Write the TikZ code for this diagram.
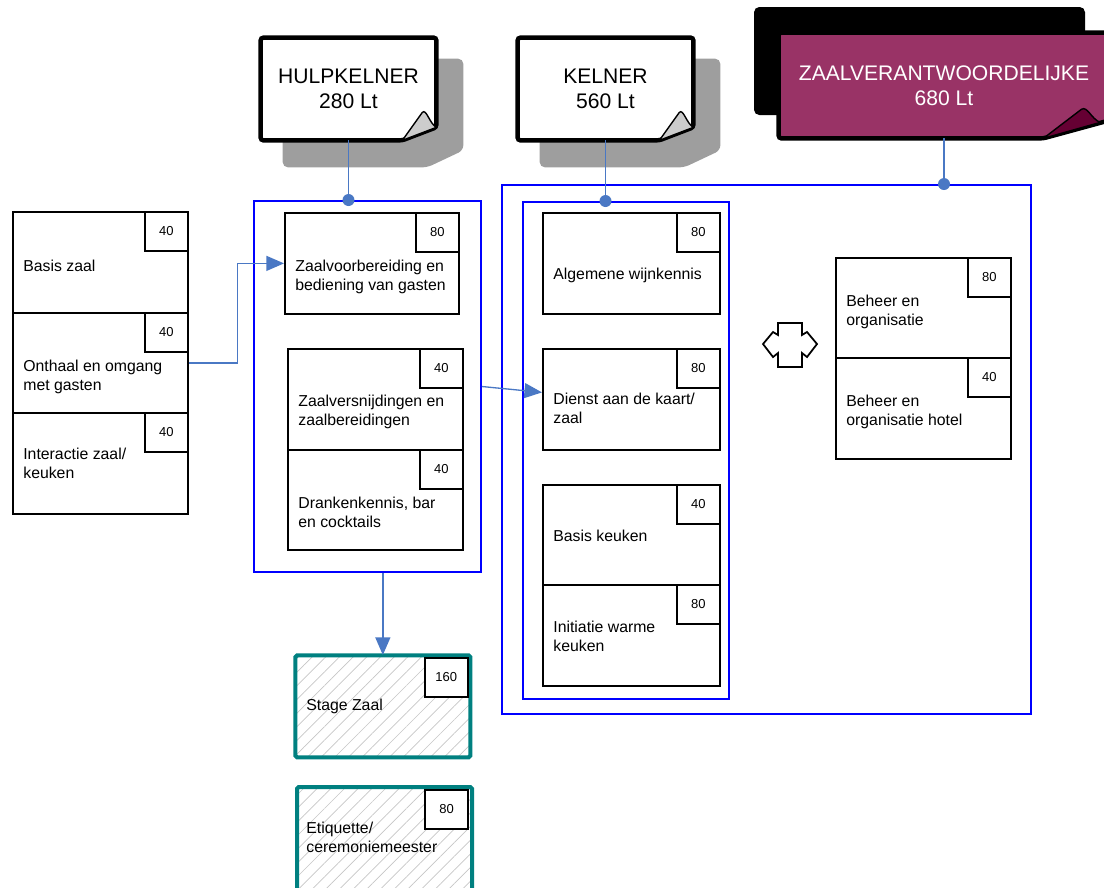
\documentclass[tikz,border=0pt]{standalone}
\usepackage{fontspec}
\setmainfont{Liberation Sans}
\usetikzlibrary{arrows.meta,calc,patterns.meta,backgrounds}

\definecolor{kaderblauw}{RGB}{0,0,255}
\definecolor{lijnblauw}{RGB}{74,120,196}
\definecolor{stagegroen}{RGB}{0,128,128}
\definecolor{zaalrood}{RGB}{153,51,102}
\definecolor{krulrood}{RGB}{102,0,51}
\definecolor{schaduw}{RGB}{158,158,158}

\tikzset{
  kader/.style={draw=kaderblauw, line width=1.1pt, inner sep=0pt},
  module/.style={draw, line width=1pt, fill=white, inner sep=0pt},
  stage/.style={draw=stagegroen, line width=2.3pt, rounded corners=1pt, inner sep=0pt,
    pattern={Lines[angle=45,distance=5.5pt,line width=0.4pt]}, pattern color=gray!45},
  uren/.style={draw, line width=1pt, fill=white, inner sep=0pt,
    minimum width={43*0.02cm}, minimum height={39*0.02cm}, font=\fontsize{7.4}{9}\selectfont},
  lestekst/.style={align=left, inner sep=0pt, font=\fontsize{9}{10.4}\selectfont},
  verbind/.style={draw=lijnblauw, line width=0.75pt},
  pijl/.style={verbind, -{Triangle[length=10pt,width=8.5pt]}},
  punt/.style={circle, fill=lijnblauw, inner sep=0pt, minimum size={12*0.02cm}},
  blad/.style={draw, line width=2.5pt, fill=white, rounded corners=1.5pt},
  bladtekst/.style={align=center, inner sep=0pt, font=\fontsize{12}{14.2}\selectfont},
}

% #1 stijl, #2 naam, #3 x, #4 y, #5 breedte, #6 hoogte, #7 uren, #8 tekst, #9 y tekst
\newcommand{\lesblok}[9][module]{%
  \node[#1, anchor=north west, minimum width={#5*0.02cm}, minimum height={#6*0.02cm}] (#2) at (#3,#4) {};
  \node[uren, anchor=north east] (#2-uren) at (#2.north east) {#7};
  \node[lestekst, anchor=north west] (#2-tekst) at ({#3+11},#9) {#8};
}

\begin{document}
\begin{tikzpicture}[x=0.02cm, y=-0.02cm]
  \useasboundingbox (0,0) rectangle (1104,887);

  % functies
  \node[bladtekst, minimum width={175*0.02cm}, minimum height={102*0.02cm}] (hulp) at (348.5,89) {HULPKELNER\\280 Lt};
  \node[bladtekst, minimum width={175*0.02cm}, minimum height={102*0.02cm}] (kelner) at (605.5,89) {KELNER\\560 Lt};
  \node[bladtekst, text=white, minimum width={330*0.02cm}, minimum height={105*0.02cm}] (zaalv) at (944,85.5) {ZAALVERANTWOORDELIJKE\\680 Lt};

  \begin{scope}[on background layer]
    \fill[schaduw, rounded corners=3pt] ($(hulp.north west)+(22,21)$) -- ($(hulp.north east)+(27,21)$)
      -- ($(hulp.south east)+(27,10)$) -- ($(hulp.south east)+(-9,27)$) -- ($(hulp.south west)+(22,27)$) -- cycle;
    \fill[schaduw, rounded corners=3pt] ($(kelner.north west)+(22,21)$) -- ($(kelner.north east)+(27,21)$)
      -- ($(kelner.south east)+(27,10)$) -- ($(kelner.south east)+(-9,27)$) -- ($(kelner.south west)+(22,27)$) -- cycle;
    \fill[black, rounded corners=3pt] (754,7) rectangle (1085,115);

    \path[blad] (hulp.north west) -- (hulp.north east) -- ($(hulp.south east)+(0,-13)$)
      -- ($(hulp.south east)+(-34,0)$) -- (hulp.south west) -- cycle;
    \filldraw[fill=gray!40, line width=0.8pt] ($(hulp.south east)+(-34,0)$) -- ($(hulp.south east)+(-14,-28)$)
      .. controls ($(hulp.south east)+(-10,-32)$) and ($(hulp.south east)+(-7,-17)$) .. ($(hulp.south east)+(0,-13)$) -- cycle;

    \path[blad] (kelner.north west) -- (kelner.north east) -- ($(kelner.south east)+(0,-13)$)
      -- ($(kelner.south east)+(-34,0)$) -- (kelner.south west) -- cycle;
    \filldraw[fill=gray!40, line width=0.8pt] ($(kelner.south east)+(-34,0)$) -- ($(kelner.south east)+(-14,-28)$)
      .. controls ($(kelner.south east)+(-10,-32)$) and ($(kelner.south east)+(-7,-17)$) .. ($(kelner.south east)+(0,-13)$) -- cycle;

    \path[blad, fill=zaalrood] (zaalv.north west) -- (zaalv.north east) -- ($(zaalv.south east)+(0,-18)$)
      -- ($(zaalv.south east)+(-66,0)$) -- (zaalv.south west) -- cycle;
    \filldraw[fill=krulrood, line width=0.8pt] ($(zaalv.south east)+(-66,0)$) -- ($(zaalv.south east)+(-28,-29)$)
      .. controls ($(zaalv.south east)+(-22,-33)$) and ($(zaalv.south east)+(-18,-19)$) .. ($(zaalv.south east)+(-9,-16)$) -- cycle;
  \end{scope}

  % kaders
  \node[kader, minimum width={227*0.02cm}, minimum height={371*0.02cm}] (links) at (367.5,386.5) {};
  \node[kader, minimum width={529*0.02cm}, minimum height={529*0.02cm}] (buiten) at (766.5,449.5) {};
  \node[kader, minimum width={206*0.02cm}, minimum height={497*0.02cm}] (binnen) at (626,450.5) {};

  % modules
  \lesblok{bzaal}{12}{211}{175}{101}{40}{Basis zaal}{260}
  \lesblok{onthaal}{12}{312}{175}{100}{40}{Onthaal en omgang\\met gasten}{360}
  \lesblok{interactie}{12}{412}{175}{101}{40}{Interactie zaal/\\keuken}{448}
  \lesblok{voorb}{284}{212}{174}{101}{80}{Zaalvoorbereiding en\\bediening van gasten}{260}
  \lesblok{versn}{287}{348}{175}{101}{40}{Zaalversnijdingen en\\zaalbereidingen}{395}
  \lesblok{dranken}{287}{449}{175}{100}{40}{Drankenkennis, bar\\en cocktails}{497}
  \lesblok{wijn}{542}{212}{177}{101}{80}{Algemene wijnkennis}{268}
  \lesblok{dienst}{542}{348}{177}{101}{80}{Dienst aan de kaart/\\zaal}{393}
  \lesblok{bkeuken}{542}{484}{177}{100}{40}{Basis keuken}{530}
  \lesblok{warm}{542}{584}{177}{101}{80}{Initiatie warme\\keuken}{621}
  \lesblok{beheer}{835}{257}{175}{100}{80}{Beheer en\\organisatie}{295}
  \lesblok{hotel}{835}{357}{175}{101}{40}{Beheer en\\organisatie hotel}{395}

  % stages
  \node[stage, anchor=north west, minimum width={175*0.02cm}, minimum height={102*0.02cm}] (stagezaal) at (295,655) {};
  \node[uren, anchor=north east] (stagezaal-uren) at ($(stagezaal.north east)+(-2,2)$) {160};
  \node[lestekst, anchor=north west] (stagezaal-tekst) at (306,699) {Stage Zaal};
  \node[stage, anchor=north west, minimum width={175*0.02cm}, minimum height={107*0.02cm}] (etiquette) at (295,785) {};
  \node[uren, anchor=north east] (etiquette-uren) at ($(etiquette.north east)+(-5,4)$) {80};
  \node[lestekst, anchor=north west] (etiquette-tekst) at (306,822) {Etiquette/\\ceremoniemeester};

  % verbindingen
  \draw[verbind] (hulp.south) -- (hulp.south |- links.north) node[punt] {};
  \draw[verbind] (kelner.south) -- (kelner.south |- binnen.north) node[punt] {};
  \draw[verbind] (zaalv.south) -- (zaalv.south |- buiten.north) node[punt] {};
  \draw[pijl] (onthaal.east) -- ++(49,0) |- (voorb.west);
  \draw[pijl] (links.east) -- ($(dienst.west)+(0,-7)$);
  \draw[pijl] (stagezaal.north |- links.south) -- (stagezaal.north);

  % dubbele pijl
  \draw[line width=1pt] (763,344) -- (773,332) -- (778,335) -- (778,323) -- (802,323) -- (802,335)
    -- (807,332) -- (817,344) -- (807,357) -- (802,353) -- (802,367) -- (778,367) -- (778,353)
    -- (773,357) -- cycle;
\end{tikzpicture}
\end{document}
